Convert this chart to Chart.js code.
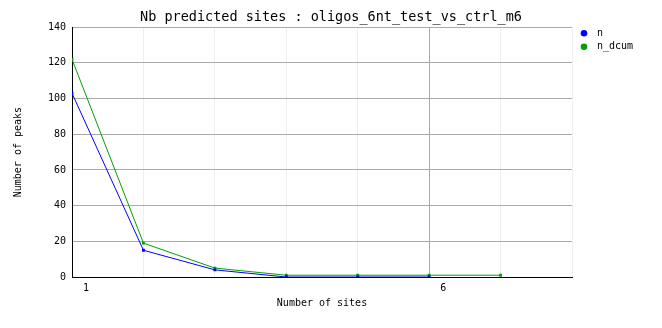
<!DOCTYPE html>
<html>
<head>
<meta charset="utf-8">
<script src="https://cdn.jsdelivr.net/npm/chart.js@4"></script>
<style>
  html, body { margin: 0; padding: 0; background: #fff; }
  #wrap { width: 662px; height: 328px; }
</style>
</head>
<body>
<div id="wrap"><canvas id="sitesChart" width="662" height="328"></canvas></div>
<script>
// data
const sites = [1, 2, 3, 4, 5, 6, 7];
const nValues = [103, 15, 4, 0, 0, 0];
const nDcumValues = [122, 19, 5, 1, 1, 1, 1];
const xTickLabels = [1, 6];
const yTicks = [0, 20, 40, 60, 80, 100, 120, 140];

const toPoints = vals => vals.map((v, i) => ({ x: sites[i], y: v }));

const mono = "'DejaVu Sans Mono', monospace";

// small legend in the right margin, next to the top of the plot
const sideLegend = {
    id: 'sideLegend',
    afterDraw(chart) {
        const ctx = chart.ctx;
        const left = chart.chartArea.right + 12;
        let y = chart.chartArea.top + 6;
        ctx.save();
        ctx.font = '10px ' + mono;
        ctx.textBaseline = 'middle';
        chart.data.datasets.forEach(ds => {
            ctx.fillStyle = ds.borderColor;
            ctx.beginPath();
            ctx.arc(left, y, 3.3, 0, Math.PI * 2);
            ctx.fill();
            ctx.fillStyle = '#000';
            ctx.fillText(ds.label, left + 13, y);
            y += 13.5;
        });
        ctx.restore();
    }
};

new Chart(document.getElementById('sitesChart'), {
    type: 'line',
    data: {
        datasets: [
            {
                label: 'n',
                data: toPoints(nValues),
                borderColor: '#0000ff',
                backgroundColor: '#0000ff',
                borderWidth: 1,
                pointStyle: 'rect',
                pointRadius: 2,
                pointBorderWidth: 0,
                tension: 0
            },
            {
                label: 'n_dcum',
                data: toPoints(nDcumValues),
                borderColor: '#00a000',
                backgroundColor: '#00a000',
                borderWidth: 1,
                pointStyle: 'rect',
                pointRadius: 2,
                pointBorderWidth: 0,
                tension: 0
            }
        ]
    },
    plugins: [sideLegend],
    options: {
        responsive: false,
        animation: false,
        layout: { padding: 0 },
        plugins: {
            title: {
                display: true,
                text: 'Nb predicted sites : oligos_6nt_test_vs_ctrl_m6',
                color: '#000',
                font: { family: mono, size: 13.5, weight: 'normal' },
                padding: { top: 9, bottom: 2 }
            },
            legend: { display: false },
            tooltip: { enabled: false }
        },
        scales: {
            x: {
                type: 'linear',
                min: 1,
                max: 8,
                afterFit: s => { s.height = 51; },
                ticks: {
                    stepSize: 1,
                    color: '#000',
                    font: { family: mono, size: 10 },
                    padding: 5,
                    labelOffset: 14,
                    maxRotation: 0,
                    autoSkip: false,
                    callback: v => xTickLabels.includes(v) ? String(v) : ''
                },
                grid: {
                    drawTicks: false,
                    color: ctx => ctx.tick && ctx.tick.value === 6 ? '#aaaaaa' : '#eeeeee'
                },
                border: { color: '#000', width: 1 },
                title: {
                    display: true,
                    text: 'Number of sites',
                    color: '#000',
                    font: { family: mono, size: 10 },
                    padding: { top: 0, bottom: 19 }
                }
            },
            y: {
                min: 0,
                max: 140,
                afterFit: s => { s.width = 72; },
                afterBuildTicks: s => { s.ticks = yTicks.map(v => ({ value: v })); },
                ticks: {
                    color: '#000',
                    font: { family: mono, size: 10 },
                    padding: 6
                },
                grid: {
                    drawTicks: false,
                    color: '#aaaaaa'
                },
                border: { color: '#000', width: 1 },
                title: {
                    display: true,
                    text: 'Number of peaks',
                    color: '#000',
                    font: { family: mono, size: 10 },
                    padding: { top: 12, bottom: 0 }
                }
            },
            // empty right-hand margin that holds the legend
            yMargin: {
                position: 'right',
                min: 0,
                max: 140,
                afterFit: s => { s.width = 90; },
                ticks: { display: false },
                grid: { display: false, drawTicks: false },
                border: { display: false }
            }
        }
    }
});
</script>
</body>
</html>
